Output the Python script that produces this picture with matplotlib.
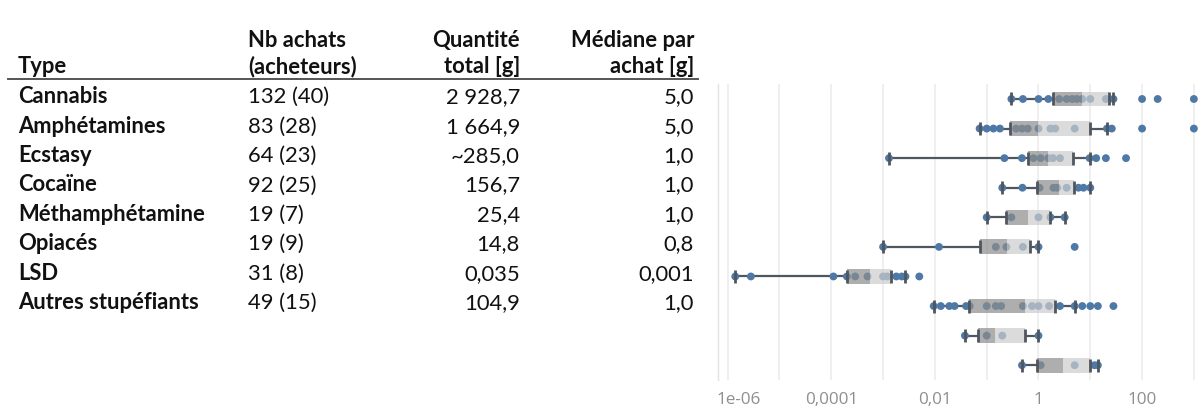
import numpy as np
import matplotlib
matplotlib.use("Agg")
import matplotlib.pyplot as plt
import matplotlib.transforms as mtransforms
from matplotlib.ticker import FixedLocator, FixedFormatter

# ---------------- table data ----------------
header_type = "Type"
header_nb = ["Nb achats", "(acheteurs)"]
header_qt = ["Quantité", "total [g]"]
header_med = ["Médiane par", "achat [g]"]
types = ["Cannabis", "Amphétamines", "Ecstasy", "Cocaïne", "Méthamphétamine",
         "Opiacés", "LSD", "Autres stupéfiants"]
nb_achats = ["132 (40)", "83 (28)", "64 (23)", "92 (25)", "19 (7)", "19 (9)", "31 (8)", "49 (15)"]
quantite = ["2 928,7", "1 664,9", "~285,0", "156,7", "25,4", "14,8", "0,035", "104,9"]
mediane = ["5,0", "5,0", "1,0", "1,0", "1,0", "0,8", "0,001", "1,0"]

# ---------------- box plot data (grams per purchase, log scale) ----------------
box_rows = list(range(10))
whisk_lo = [0.3, 0.073, 0.0013, 0.2, 0.1, 0.001, 1.4e-6, 0.0095, 0.038, 0.48]
q1 = [1.9, 0.28, 0.64, 0.93, 0.24, 0.075, 2.0e-4, 0.046, 0.068, 0.93]
med = [7.0, 1.0, 1.55, 2.5, 0.64, 0.25, 5.6e-4, 0.55, 0.145, 3.0]
q3 = [23, 9.7, 4.7, 4.8, 1.7, 0.7, 1.4e-3, 2.1, 0.55, 9.9]
whisk_hi = [28, 21, 9.7, 10, 3.2, 1.0, 2.7e-3, 5.0, 1.0, 14]
points = [
    [0.3, 0.5, 1.0, 1.55, 2.5, 3.5, 4.5, 5.5, 7.0, 10, 20, 28, 100, 200, 1000],
    [0.073, 0.1, 0.135, 0.18, 0.37, 0.48, 0.62, 1.0, 1.7, 2.1, 5.0, 21, 26, 100, 1000],
    [0.0013, 0.22, 0.48, 0.8, 1.1, 1.55, 1.9, 2.6, 9.7, 13, 20, 49],
    [0.2, 0.49, 1.05, 1.95, 2.3, 3.5, 5.9, 7.4, 10],
    [0.1, 0.3, 1.0, 1.7, 3.2],
    [0.001, 0.012, 0.15, 0.24, 0.5, 1.0, 5.0],
    [1.4e-6, 2.8e-6, 1.1e-4, 2.0e-4, 2.9e-4, 5.0e-4, 1.0e-3, 1.2e-3, 1.8e-3, 2.3e-3, 2.7e-3, 5.0e-3],
    [0.0095, 0.013, 0.019, 0.024, 0.04, 0.047, 0.1, 0.15, 0.19, 0.5, 0.75, 1.0, 1.6, 2.6, 5.0,
     7.0, 10, 14, 28],
    [0.038, 0.1, 0.2, 1.0],
    [0.48, 1.1, 5.0, 12, 14],
]
tick_values = [1e-6, 1e-5, 1e-4, 1e-3, 1e-2, 1e-1, 1, 10, 100, 1000]
tick_labels = ["1e-06", "", "0,0001", "", "0,01", "", "1", "", "100", ""]

W, H = 1203, 414
fig = plt.figure(figsize=(W / 100, H / 100), dpi=100)
renderer = fig.canvas.get_renderer()

TXT = "#111111"
FONT = ["Lato", "DejaVu Sans"]

# fit table font size to the reference widths of the longest labels
def _w(s):
    p = fig.text(0, 0, s, fontsize=20, fontweight="bold", family=FONT)
    w = p.get_window_extent(renderer).width
    p.remove()
    return w

fs = 0.5 * (20 * 180 / _w("Autres stupéfiants") + 20 * 187 / _w("Méthamphétamine"))


def fy(px):
    return 1 - px / H


def fx(px):
    return px / W


x_type, x_nb, x_qt, x_med = 18, 248, 520, 694
row_c = [96 + 29.4 * k for k in range(len(types))]
h1, h2 = 40, 66
base_off = 0.33 * fs * 100 / 72  # centre -> baseline in px

# header
fig.text(fx(x_type), fy(h2 + base_off), header_type, fontsize=fs, fontweight="bold",
         family=FONT, color=TXT, ha="left", va="baseline")
for j, hy in enumerate([h1, h2]):
    fig.text(fx(x_nb), fy(hy + base_off), header_nb[j], fontsize=fs, fontweight="bold",
             family=FONT, color=TXT, ha="left", va="baseline")
    fig.text(fx(x_qt), fy(hy + base_off), header_qt[j], fontsize=fs, fontweight="bold",
             family=FONT, color=TXT, ha="right", va="baseline")
    fig.text(fx(x_med), fy(hy + base_off), header_med[j], fontsize=fs, fontweight="bold",
             family=FONT, color=TXT, ha="right", va="baseline")

# rule under header
fig.add_artist(plt.Line2D([fx(8), fx(698)], [fy(79.5), fy(79.5)], color="#555555", lw=1.4))

for k in range(len(types)):
    yb = fy(row_c[k] + base_off)
    fig.text(fx(x_type), yb, types[k], fontsize=fs, fontweight="bold", family=FONT,
             color=TXT, ha="left", va="baseline")
    fig.text(fx(x_nb), yb, nb_achats[k], fontsize=fs, family=FONT, color=TXT,
             ha="left", va="baseline")
    fig.text(fx(x_qt), yb, quantite[k], fontsize=fs, family=FONT, color=TXT,
             ha="right", va="baseline")
    fig.text(fx(x_med), yb, mediane[k], fontsize=fs, family=FONT, color=TXT,
             ha="right", va="baseline")

# ---------------- box plot ----------------
ax_left, ax_right = 718, 1203
ax_top, ax_bot = 85.2, 381.0
ax = fig.add_axes([fx(ax_left), fy(ax_bot), fx(ax_right) - fx(ax_left), (ax_bot - ax_top) / H])
ax.set_xscale("log")
ax.set_xlim(6.5e-7, 1.5e3)
ax.set_ylim(len(box_rows) - 0.5, -0.5)

DOT = "#4e79a7"
WH = "#50565e"
BOX_D = "#8c8c8c"
BOX_L = "#cccccc"
bh = 0.5
ch = 0.22

for i in box_rows:
    ax.plot([whisk_lo[i], q1[i]], [i, i], color=WH, lw=1.6, zorder=1, solid_capstyle="butt")
    ax.plot([q3[i], whisk_hi[i]], [i, i], color=WH, lw=1.6, zorder=1, solid_capstyle="butt")
    ax.scatter(points[i], [i] * len(points[i]), s=32, color=DOT, edgecolors="none", zorder=2)
    ax.barh(i, med[i] - q1[i], left=q1[i], height=bh, color=BOX_D, alpha=0.7, zorder=3,
            linewidth=0)
    ax.barh(i, q3[i] - med[i], left=med[i], height=bh, color=BOX_L, alpha=0.7, zorder=3,
            linewidth=0)
    ax.vlines([whisk_lo[i], q1[i], q3[i], whisk_hi[i]], i - ch, i + ch, color=WH, lw=2.0,
              zorder=4)

ax.xaxis.set_major_locator(FixedLocator(tick_values))
ax.xaxis.set_major_formatter(FixedFormatter(tick_labels))
ax.xaxis.set_minor_locator(FixedLocator([]))
ax.grid(True, axis="x", color="#ececec", lw=1.2, zorder=0)
ax.set_axisbelow(True)
ax.set_yticks([])
ax.tick_params(axis="x", length=0, pad=8, labelsize=12.3, labelcolor="#8f8f8f")
for lab in ax.get_xticklabels():
    lab.set_family(["Open Sans", "DejaVu Sans"])
# shift the first label right so it stays inside the pane
first = ax.get_xticklabels()[0]
first.set_transform(first.get_transform() +
                    mtransforms.ScaledTranslation(11 / 100, 0, fig.dpi_scale_trans))
for s in ["top", "right", "bottom"]:
    ax.spines[s].set_visible(False)
ax.spines["left"].set_color("#e3e3e3")
ax.spines["left"].set_linewidth(1.0)
ax.set_facecolor("none")

fig.savefig("out.png", dpi=100)
